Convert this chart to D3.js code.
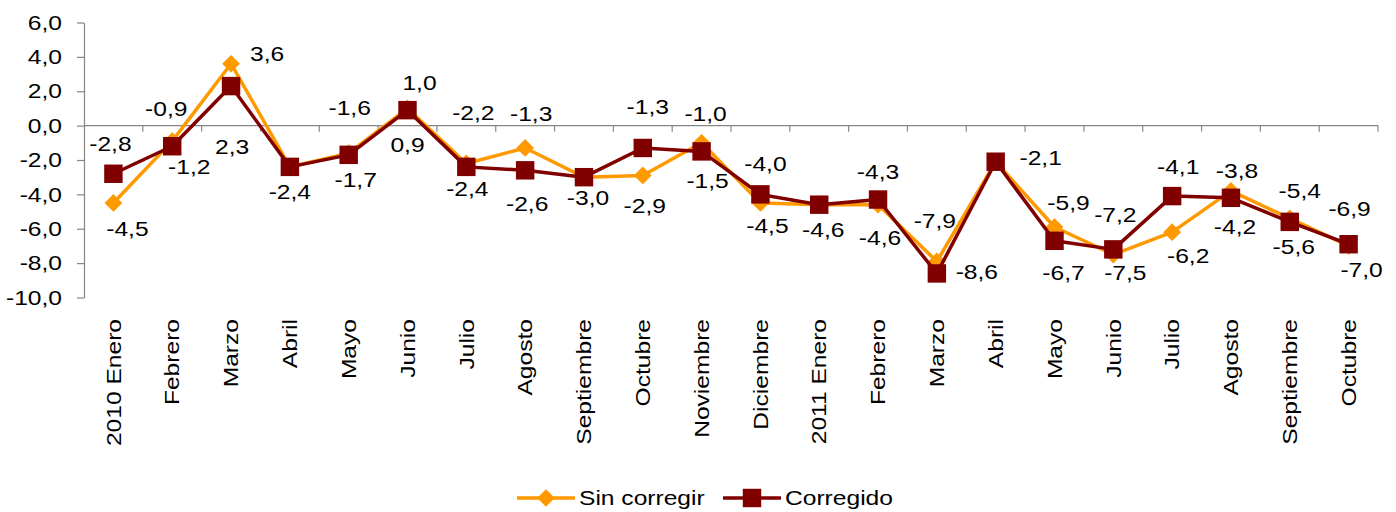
<!DOCTYPE html>
<html>
<head>
<meta charset="utf-8">
<script src="https://cdn.jsdelivr.net/npm/d3@7"></script>
<style>
  html, body { margin: 0; padding: 0; background: #fff; }
  svg { display: block; font-family: "Liberation Sans", Arial, sans-serif; }
</style>
</head>
<body>
<div id="chart"></div>
<script>
// ── Data ─────────────────────────────────────────────────────────────────────
const categories = [
  "2010 Enero", "Febrero", "Marzo", "Abril", "Mayo", "Junio", "Julio", "Agosto",
  "Septiembre", "Octubre", "Noviembre", "Diciembre", "2011 Enero", "Febrero",
  "Marzo", "Abril", "Mayo", "Junio", "Julio", "Agosto", "Septiembre", "Octubre"
];
const sinCorregir = [-4.5, -0.9, 3.6, -2.4, -1.6, 1.0, -2.2, -1.3, -3.0, -2.9, -1.0,
  -4.5, -4.6, -4.6, -7.9, -2.1, -5.9, -7.5, -6.2, -3.8, -5.4, -7.0];
const corregido = [-2.8, -1.2, 2.3, -2.4, -1.7, 0.9, -2.4, -2.6, -3.0, -1.3, -1.5,
  -4.0, -4.6, -4.3, -8.6, -2.1, -6.7, -7.2, -4.1, -4.2, -5.6, -6.9];
const yTicks = [-10, -8, -6, -4, -2, 0, 2, 4, 6];
const seriesNames = ["Sin corregir", "Corregido"];

// label placement (offset from the point), null = label shared with the other series
const sinLabelPos = [[14,26],[-6,-32],[36,-10],[0,25],[1,-45],[12,-26],[7,-51],[6,-34],
  [4,21],[2,30],[4,-29],[7,23],[4,25],[2,33],[-2,-41],[45,-4],[14,-24],[12,18],
  [16,24],[6,-20],[10,-28],[13,24]];
const corLabelPos = [[-3,-30],[17,21],[1,61],null,[7,25],[0,35],[1,22],[2,34],
  null,[5,-41],[6,29],[5,-31],null,[0,-28],[40,-2],null,[9,32],[2,-35],
  [6,-29],[4,29],[4,25],[1,-35]];

// ── Chart ────────────────────────────────────────────────────────────────────
const width = 1396, height = 512;
const fontSize = 20.5;
const stretch = 1.2;   // text in the source is drawn wider than plain Arial
const axisColor = "#868686";
const orange = "#FF9900", darkRed = "#800000";

const locale = d3.formatLocale({ decimal: ",", thousands: ".", grouping: [3], currency: ["", ""], minus: "-" });
const fmt = locale.format(".1f");

const svg = d3.select("#chart").append("svg")
  .attr("width", width).attr("height", height);

const x = d3.scaleBand().domain(d3.range(categories.length)).range([84, 1378]);
const y = d3.scaleLinear().domain([-10, 6]).range([297.5, 22.5]);
const cx = i => x(i) + x.bandwidth() / 2;

// Y axis
const yAxis = svg.append("g").attr("transform", "translate(84,0)")
  .call(d3.axisLeft(y).tickValues(yTicks).tickSize(7).tickSizeOuter(0).tickFormat(""));
yAxis.select(".domain").attr("stroke", axisColor).attr("stroke-width", 1.2);
yAxis.selectAll(".tick line").attr("stroke", axisColor).attr("stroke-width", 1.2);

svg.append("g").selectAll("text").data(yTicks).join("text")
  .attr("transform", d => `translate(62,${y(d)}) scale(${stretch},1)`)
  .attr("text-anchor", "end").attr("dy", "0.35em")
  .attr("font-size", fontSize).attr("fill", "#000")
  .text(d => fmt(d));

// X axis at zero, ticks between categories
const xAxisG = svg.append("g");
xAxisG.append("line")
  .attr("x1", 84).attr("x2", 1378).attr("y1", y(0)).attr("y2", y(0))
  .attr("stroke", axisColor).attr("stroke-width", 1.2);
xAxisG.selectAll("line.tick").data(d3.range(1, categories.length + 1)).join("line")
  .attr("class", "tick")
  .attr("x1", i => x(i) === undefined ? 1378 : x(i))
  .attr("x2", i => x(i) === undefined ? 1378 : x(i))
  .attr("y1", y(0)).attr("y2", y(0) + 6)
  .attr("stroke", axisColor).attr("stroke-width", 1.2);

// Category labels
svg.append("g").selectAll("text").data(categories).join("text")
  .attr("transform", (d, i) => `translate(${cx(i)},319) rotate(-90) scale(${stretch},1)`)
  .attr("text-anchor", "end").attr("dy", "0.35em")
  .attr("font-size", fontSize).attr("fill", "#000")
  .text(d => d);

// Lines
const line = d3.line().x((d, i) => cx(i)).y(d => y(d));

svg.append("path").datum(sinCorregir)
  .attr("d", line).attr("fill", "none")
  .attr("stroke", orange).attr("stroke-width", 3.5).attr("stroke-linejoin", "round");

const diamond = d3.symbol().type(d3.symbolDiamond2).size(200);
svg.append("g").selectAll("path").data(sinCorregir).join("path")
  .attr("transform", (d, i) => `translate(${cx(i)},${y(d)})`)
  .attr("d", diamond).attr("fill", orange);

svg.append("path").datum(corregido)
  .attr("d", line).attr("fill", "none")
  .attr("stroke", darkRed).attr("stroke-width", 3.5).attr("stroke-linejoin", "round");

const square = d3.symbol().type(d3.symbolSquare).size(340);
svg.append("g").selectAll("path").data(corregido).join("path")
  .attr("transform", (d, i) => `translate(${cx(i)},${y(d)})`)
  .attr("d", square).attr("fill", darkRed);

// Data labels
function drawLabels(values, positions) {
  svg.append("g").selectAll("text")
    .data(values.map((v, i) => ({ v, i, p: positions[i] })).filter(d => d.p))
    .join("text")
    .attr("transform", d => `translate(${cx(d.i) + d.p[0]},${y(d.v) + d.p[1]}) scale(${stretch},1)`)
    .attr("text-anchor", "middle").attr("dy", "0.35em")
    .attr("font-size", fontSize).attr("fill", "#000")
    .text(d => fmt(d.v));
}
drawLabels(sinCorregir, sinLabelPos);
drawLabels(corregido, corLabelPos);

// Legend
const legend = svg.append("g").attr("transform", "translate(0,498)");
const legendItems = [
  { name: seriesNames[0], color: orange, sym: diamond, x0: 517 },
  { name: seriesNames[1], color: darkRed, sym: square, x0: 723 }
];
for (const it of legendItems) {
  legend.append("line")
    .attr("x1", it.x0).attr("x2", it.x0 + 58).attr("y1", 0).attr("y2", 0)
    .attr("stroke", it.color).attr("stroke-width", 3.5);
  legend.append("path")
    .attr("transform", `translate(${it.x0 + 29},0)`)
    .attr("d", it.sym).attr("fill", it.color);
  legend.append("text")
    .attr("transform", `translate(${it.x0 + 62},0) scale(${stretch},1)`)
    .attr("dy", "0.35em").attr("font-size", fontSize).attr("fill", "#000")
    .text(it.name);
}
</script>
</body>
</html>
